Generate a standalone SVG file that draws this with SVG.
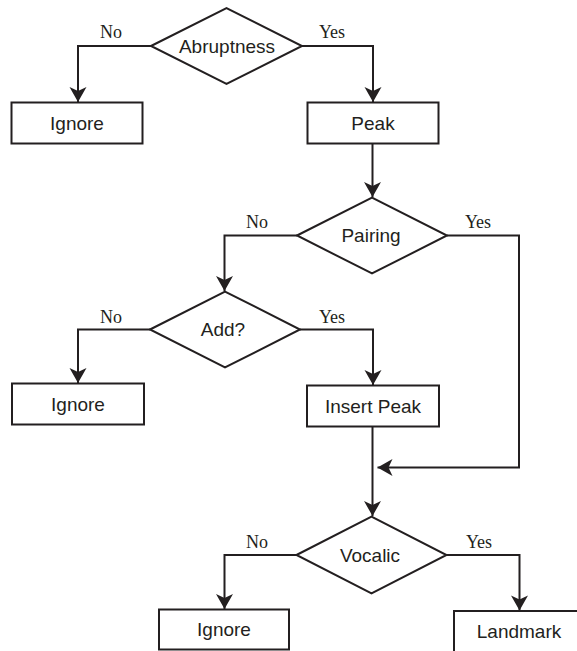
<svg xmlns="http://www.w3.org/2000/svg" width="577" height="651" viewBox="0 0 577 651">
  <defs>
    <marker id="arrow" markerUnits="userSpaceOnUse" markerWidth="18" markerHeight="18" viewBox="-15 -9 16 18" refX="0" refY="0" orient="auto">
      <path d="M0,0 L-15,-8.5 L-11,0 L-15,8.5 Z" fill="#231f20"/>
    </marker>
    <style>
      .shape { fill: #ffffff; stroke: #231f20; stroke-width: 2; }
      .node-text { font-family: "Liberation Sans", Arial, sans-serif; font-size: 19px; fill: #231f20; text-anchor: middle; }
      .edge { fill: none; stroke: #231f20; stroke-width: 2; }
      .edge-label { font-family: "Liberation Serif", "Times New Roman", serif; font-size: 18px; fill: #231f20; text-anchor: middle; }
    </style>
  </defs>
  <rect width="577" height="651" fill="#ffffff"/>

  <!-- connectors -->
  <g id="connectors">
    <path class="edge" d="M151,46 H78 V102" marker-end="url(#arrow)"/>
    <path class="edge" d="M302,46 H373 V102" marker-end="url(#arrow)"/>
    <path class="edge" d="M372.5,143.5 V197" marker-end="url(#arrow)"/>
    <path class="edge" d="M297,235.5 H224.5 V291" marker-end="url(#arrow)"/>
    <path class="edge" d="M447,235.5 H519 V467.5 H377.5" marker-end="url(#arrow)"/>
    <path class="edge" d="M150,329.5 H78 V383" marker-end="url(#arrow)"/>
    <path class="edge" d="M300,329.5 H373 V385" marker-end="url(#arrow)"/>
    <path class="edge" d="M372.5,426.5 V516" marker-end="url(#arrow)"/>
    <path class="edge" d="M296.5,555 H224.5 V609" marker-end="url(#arrow)"/>
    <path class="edge" d="M446.5,555 H519.5 V610.5" marker-end="url(#arrow)"/>

    <text class="edge-label" x="111" y="38">No</text>
    <text class="edge-label" x="332" y="38">Yes</text>
    <text class="edge-label" x="257" y="228">No</text>
    <text class="edge-label" x="478" y="228">Yes</text>
    <text class="edge-label" x="111" y="322.5">No</text>
    <text class="edge-label" x="332" y="322.5">Yes</text>
    <text class="edge-label" x="257" y="547.5">No</text>
    <text class="edge-label" x="479" y="547.5">Yes</text>
  </g>

  <!-- decisions -->
  <g id="abruptness">
    <polygon class="shape" points="151,46 226.5,8 302,46 226.5,84"/>
    <text class="node-text" x="227" y="53">Abruptness</text>
  </g>
  <g id="pairing">
    <polygon class="shape" points="297,235.5 372,197.5 447,235.5 372,273.5"/>
    <text class="node-text" x="371" y="242">Pairing</text>
  </g>
  <g id="add">
    <polygon class="shape" points="150,329.5 225,291.5 300,329.5 225,367.5"/>
    <text class="node-text" x="223" y="336">Add?</text>
  </g>
  <g id="vocalic">
    <polygon class="shape" points="296.5,555 371.5,516.5 446.5,555 371.5,593.5"/>
    <text class="node-text" x="370" y="562">Vocalic</text>
  </g>

  <!-- actions -->
  <g id="ignore-1">
    <rect class="shape" x="11.5" y="102.5" width="131" height="41"/>
    <text class="node-text" x="77" y="129.5">Ignore</text>
  </g>
  <g id="peak">
    <rect class="shape" x="307.5" y="102.5" width="131" height="41"/>
    <text class="node-text" x="373" y="129.5">Peak</text>
  </g>
  <g id="ignore-2">
    <rect class="shape" x="12" y="383.5" width="132" height="41"/>
    <text class="node-text" x="78" y="410.5">Ignore</text>
  </g>
  <g id="insert-peak">
    <rect class="shape" x="307" y="385.5" width="132" height="41"/>
    <text class="node-text" x="373" y="412.5">Insert Peak</text>
  </g>
  <g id="ignore-3">
    <rect class="shape" x="159" y="609.5" width="130" height="40"/>
    <text class="node-text" x="224" y="636">Ignore</text>
  </g>
  <g id="landmark">
    <rect class="shape" x="454" y="611" width="131" height="41"/>
    <text class="node-text" x="519" y="638">Landmark</text>
  </g>
</svg>
